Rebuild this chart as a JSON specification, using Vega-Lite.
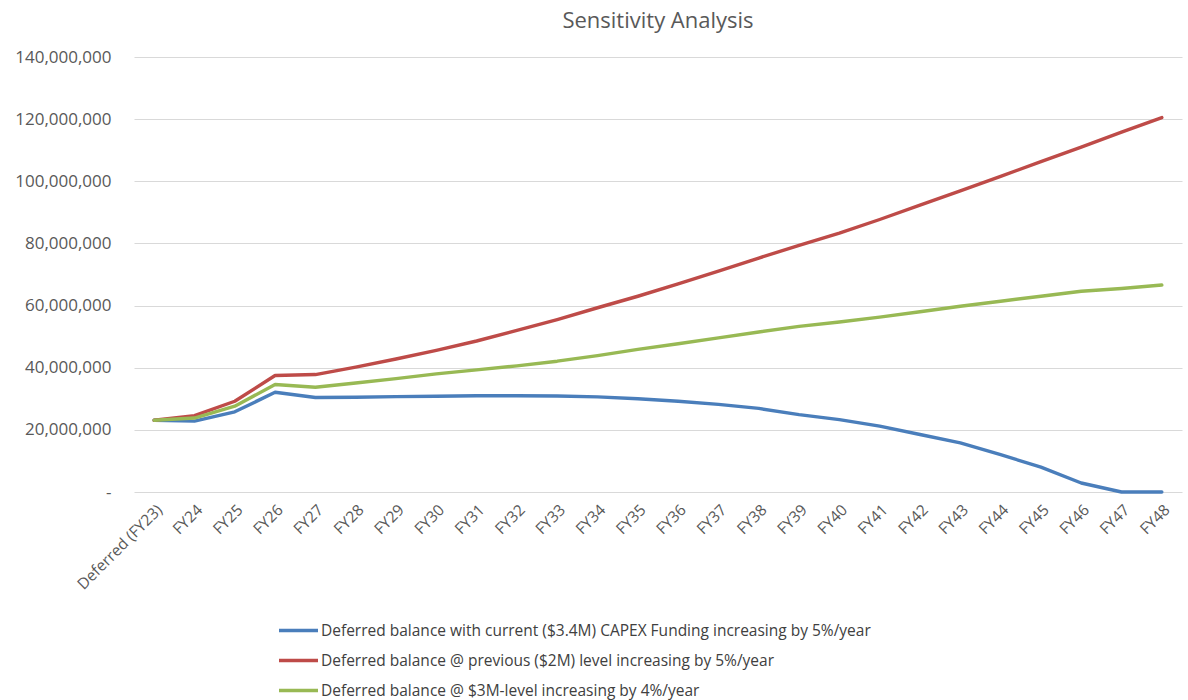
{
  "$schema": "https://vega.github.io/schema/vega-lite/v6.json",
  "width": 1048,
  "height": 435,
  "padding": {"left": 14, "top": 10, "right": 5, "bottom": 5},
  "background": "white",
  "title": {
    "text": "Sensitivity Analysis",
    "fontSize": 22,
    "font": "Open Sans",
    "fontWeight": "normal",
    "color": "#595959",
    "anchor": "middle",
    "offset": 15
  },
  "data": {
    "values": [
      {"FY": "Deferred (FY23)", "current": 23100000, "previous": 23100000, "three": 23100000},
      {"FY": "FY24", "current": 22800000, "previous": 24600000, "three": 23800000},
      {"FY": "FY25", "current": 25800000, "previous": 29200000, "three": 27600000},
      {"FY": "FY26", "current": 32100000, "previous": 37500000, "three": 34600000},
      {"FY": "FY27", "current": 30400000, "previous": 37800000, "three": 33700000},
      {"FY": "FY28", "current": 30500000, "previous": 40200000, "three": 35100000},
      {"FY": "FY29", "current": 30700000, "previous": 42800000, "three": 36500000},
      {"FY": "FY30", "current": 30800000, "previous": 45600000, "three": 38000000},
      {"FY": "FY31", "current": 31000000, "previous": 48600000, "three": 39300000},
      {"FY": "FY32", "current": 31000000, "previous": 52000000, "three": 40600000},
      {"FY": "FY33", "current": 30900000, "previous": 55500000, "three": 42100000},
      {"FY": "FY34", "current": 30600000, "previous": 59300000, "three": 43900000},
      {"FY": "FY35", "current": 30000000, "previous": 63000000, "three": 45900000},
      {"FY": "FY36", "current": 29200000, "previous": 67000000, "three": 47700000},
      {"FY": "FY37", "current": 28200000, "previous": 71100000, "three": 49600000},
      {"FY": "FY38", "current": 26900000, "previous": 75300000, "three": 51500000},
      {"FY": "FY39", "current": 24900000, "previous": 79400000, "three": 53300000},
      {"FY": "FY40", "current": 23300000, "previous": 83300000, "three": 54700000},
      {"FY": "FY41", "current": 21200000, "previous": 87700000, "three": 56300000},
      {"FY": "FY42", "current": 18500000, "previous": 92300000, "three": 58000000},
      {"FY": "FY43", "current": 15800000, "previous": 96900000, "three": 59800000},
      {"FY": "FY44", "current": 12000000, "previous": 101600000, "three": 61400000},
      {"FY": "FY45", "current": 8000000, "previous": 106300000, "three": 63000000},
      {"FY": "FY46", "current": 2900000, "previous": 111000000, "three": 64600000},
      {"FY": "FY47", "current": 0, "previous": 115800000, "three": 65500000},
      {"FY": "FY48", "current": 0, "previous": 120500000, "three": 66600000}
    ]
  },
  "transform": [
    {"fold": ["current", "previous", "three"], "as": ["series", "value"]}
  ],
  "mark": {"type": "line", "strokeWidth": 3.4, "strokeJoin": "round", "strokeCap": "round"},
  "encoding": {
    "x": {
      "field": "FY",
      "type": "nominal",
      "sort": null,
      "scale": {"type": "point", "padding": 0.5},
      "axis": {
        "title": null,
        "labelAngle": -45,
        "labelFont": "Open Sans",
        "labelFontSize": 15.5,
        "labelColor": "#595959",
        "domain": false,
        "ticks": false,
        "grid": false,
        "labelPadding": 10
      }
    },
    "y": {
      "field": "value",
      "type": "quantitative",
      "scale": {"domain": [0, 140000000], "nice": false},
      "axis": {
        "title": null,
        "values": [0, 20000000, 40000000, 60000000, 80000000, 100000000, 120000000, 140000000],
        "labelExpr": "datum.value == 0 ? '-' : format(datum.value, ',')",
        "labelFont": "Open Sans",
        "labelFontSize": 17,
        "labelColor": "#595959",
        "domain": false,
        "ticks": false,
        "labelPadding": 23,
        "gridColor": "#d9d9d9",
        "gridWidth": 1.2
      }
    },
    "color": {
      "field": "series",
      "type": "nominal",
      "sort": ["current", "previous", "three"],
      "scale": {"domain": ["current", "previous", "three"], "range": ["#4A7EBB", "#BE4B48", "#98B954"]},
      "legend": {
        "title": null,
        "orient": "none",
        "legendX": 143,
        "legendY": 552,
        "direction": "vertical",
        "symbolType": "stroke",
        "symbolSize": 1521,
        "symbolStrokeWidth": 3.4,
        "labelFont": "Open Sans",
        "labelFontSize": 15.5,
        "labelColor": "#404040",
        "labelOffset": 1,
        "rowPadding": -8,
        "labelLimit": 800,
        "labelExpr": "datum.value == 'current' ? 'Deferred balance with current ($3.4M) CAPEX Funding increasing by 5%/year' : datum.value == 'previous' ? 'Deferred balance @ previous ($2M) level increasing by 5%/year' : 'Deferred balance @ $3M-level increasing by 4%/year'"
      }
    }
  },
  "config": {"view": {"stroke": null}}
}
